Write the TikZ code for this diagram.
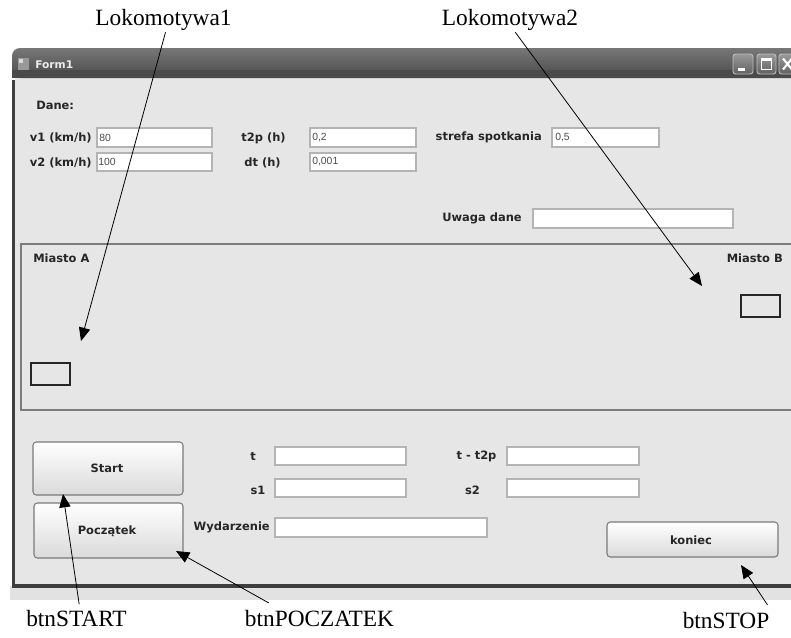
\documentclass[tikz,border=0pt]{standalone}
\usepackage{fontspec}
\setmainfont{Liberation Serif}
\newfontfamily\guifont{DejaVu Sans}
\newfontfamily\valfont{Liberation Sans}
\usetikzlibrary{arrows.meta}

\definecolor{formbg}{HTML}{E6E6E6}
\definecolor{frame}{HTML}{3E3E3E}
\definecolor{titletop}{HTML}{777777}
\definecolor{titlebot}{HTML}{4A4A4A}
\definecolor{boxedge}{HTML}{B4B4B4}
\definecolor{btnedge}{HTML}{7A7A7A}
\definecolor{btnbot}{HTML}{DADADA}
\definecolor{groupedge}{HTML}{7C7C7C}
\definecolor{shadowband}{HTML}{E2E2E2}

\tikzset{
  lbl/.style={font=\fontsize{17.5}{20}\selectfont, inner sep=0pt, anchor=base},
  gui/.style={font=\guifont\bfseries\fontsize{8.6}{10}\selectfont, text=black!85, inner sep=0pt},
  val/.style={font=\valfont\fontsize{7.8}{9}\selectfont, text=black!70, anchor=west, inner sep=0pt},
  tbox/.style={draw=boxedge, fill=white, line width=0.9pt},
  btn/.style={draw=btnedge, line width=0.8pt, rounded corners=2.5pt, top color=white, bottom color=btnbot},
  loco/.style={draw=black!85, line width=1.3pt, fill=formbg},
  capbtn/.style={draw=white!75!black, line width=0.7pt, rounded corners=2pt, top color=white!60!black, bottom color=white!38!black},
  callout/.style={line width=0.6pt, -{Triangle[length=10pt,width=8.5pt]}},
}

\begin{document}
\begin{tikzpicture}[x=0.75pt,y=-0.75pt]
  \clip (0,0) rectangle (791,637);
  \fill[white] (0,0) rectangle (791,637);

  % --- window frame ---
  \fill[shadowband] (10,586) rectangle (791,600);
  \fill[frame] (12,80) rectangle (791,588);
  \fill[formbg] (15,78) rectangle (791,584);
  \shade[top color=titletop, bottom color=titlebot, rounded corners=6pt]
    (12,48) -- (800,48) -- (800,78) -- (12,78) -- cycle;
  \fill[titlebot] (12,70) rectangle (791,78);

  % title bar icon, caption and buttons
  \fill[white!60!black] (18,58) rectangle (29,70);
  \fill[white!85!black] (19,59) rectangle (23,63);
  \node[font=\guifont\bfseries\fontsize{8}{9}\selectfont, text=white!92!black, anchor=west, inner sep=0pt] (caption) at (35,65) {Form1};
  \draw[capbtn] (733,54) rectangle (753,74);
  \fill[white] (738,68) rectangle (745,70.5);
  \draw[capbtn] (757,54) rectangle (776,74);
  \draw[white, line width=1pt] (761.5,58.5) rectangle (771.5,69.5);
  \fill[white] (761.5,58.5) rectangle (771.5,61);
  \draw[capbtn] (779,54) rectangle (799,74);
  \draw[white, line width=1.6pt] (783,58.5) -- (792,69.5) (792,58.5) -- (783,69.5);

  % --- input data ---
  \node[gui, anchor=west] (dane) at (36,105) {Dane:};

  \node[gui, anchor=east] (v1lab) at (92,138) {v1 (km/h)};
  \draw[tbox] (97,128) rectangle (212,147);
  \node[val] (v1val) at (99,137.5) {80};
  \node[gui, anchor=east] (v2lab) at (92,162.5) {v2 (km/h)};
  \draw[tbox] (97,153) rectangle (212,171);
  \node[val] (v2val) at (98,162) {100};

  \node[gui] (t2plab) at (263.5,138.5) {t2p (h)};
  \draw[tbox] (310,128) rectangle (416,147);
  \node[val] (t2pval) at (312,137.5) {0,2};
  \node[gui] (dtlab) at (262.5,163) {dt (h)};
  \draw[tbox] (310,153) rectangle (416,171);
  \node[val] (dtval) at (312,162) {0,001};

  \node[gui, anchor=east] (strefalab) at (542,137) {strefa spotkania};
  \draw[tbox] (552,128) rectangle (659,147);
  \node[val] (strefaval) at (555,137.5) {0,5};

  \node[gui, anchor=east] (uwagalab) at (522,218) {Uwaga dane};
  \draw[tbox] (533,209) rectangle (733,228);

  % --- track panel ---
  \draw[groupedge, line width=1.1pt] (21,244) rectangle (810,410);
  \node[gui, anchor=west] (miastoA) at (33,258) {Miasto A};
  \node[gui, anchor=east] (miastoB) at (783,258) {Miasto B};
  \draw[loco] (31,363) rectangle (70,385);
  \draw[loco] (741,295) rectangle (780,317);

  % --- buttons ---
  \draw[btn] (33,442) rectangle (183,495);
  \node[gui] (start) at (107,468) {Start};
  \draw[btn] (34,503) rectangle (183,558);
  \node[gui] (poczatek) at (107,531.5) {Początek};
  \draw[btn] (607,522) rectangle (778,557);
  \node[gui] (koniec) at (691,540) {koniec};

  % --- results ---
  \node[gui] (tlab) at (253,456) {t};
  \draw[tbox] (275,447) rectangle (406,465);
  \node[gui] (s1lab) at (258,490) {s1};
  \draw[tbox] (275,479) rectangle (406,497);
  \node[gui, anchor=east] (wydlab) at (270,527) {Wydarzenie};
  \draw[tbox] (275,518) rectangle (487,537);
  \node[gui] (tt2plab) at (476.5,456) {t - t2p};
  \draw[tbox] (507,447) rectangle (639,465);
  \node[gui] (s2lab) at (472.5,490) {s2};
  \draw[tbox] (507,479) rectangle (639,497);

  % --- callout labels ---
  \node[lbl] (lok1) at (163.5,25) {Lokomotywa1};
  \node[lbl] (lok2) at (510,25) {Lokomotywa2};
  \node[lbl] (bstart) at (76.5,626) {btnSTART};
  \node[lbl] (bpocz) at (319.5,626) {btnPOCZATEK};
  \node[lbl] (bstop) at (726,628) {btnSTOP};

  \coordinate (tiplok1) at (81,341);
  \coordinate (tiplok2) at (702,286);
  \coordinate (tipstart) at (63,494);
  \coordinate (tippocz) at (176,551);
  \coordinate (tipstop) at (741,565);

  \draw[callout] ([shift={(1.5pt,-1.5pt)}]lok1.south) -- (tiplok1);
  \draw[callout] ([shift={(4pt,-1.5pt)}]lok2.south) -- (tiplok2);
  \draw[callout] ([shift={(2pt,4pt)}]bstart.north) -- (tipstart);
  \draw[callout] ([shift={(18pt,5pt)}]bpocz.north west) -- (tippocz);
  \draw[callout] ([shift={(-1.5pt,5pt)}]bstop.north east) -- (tipstop);
\end{tikzpicture}
\end{document}
